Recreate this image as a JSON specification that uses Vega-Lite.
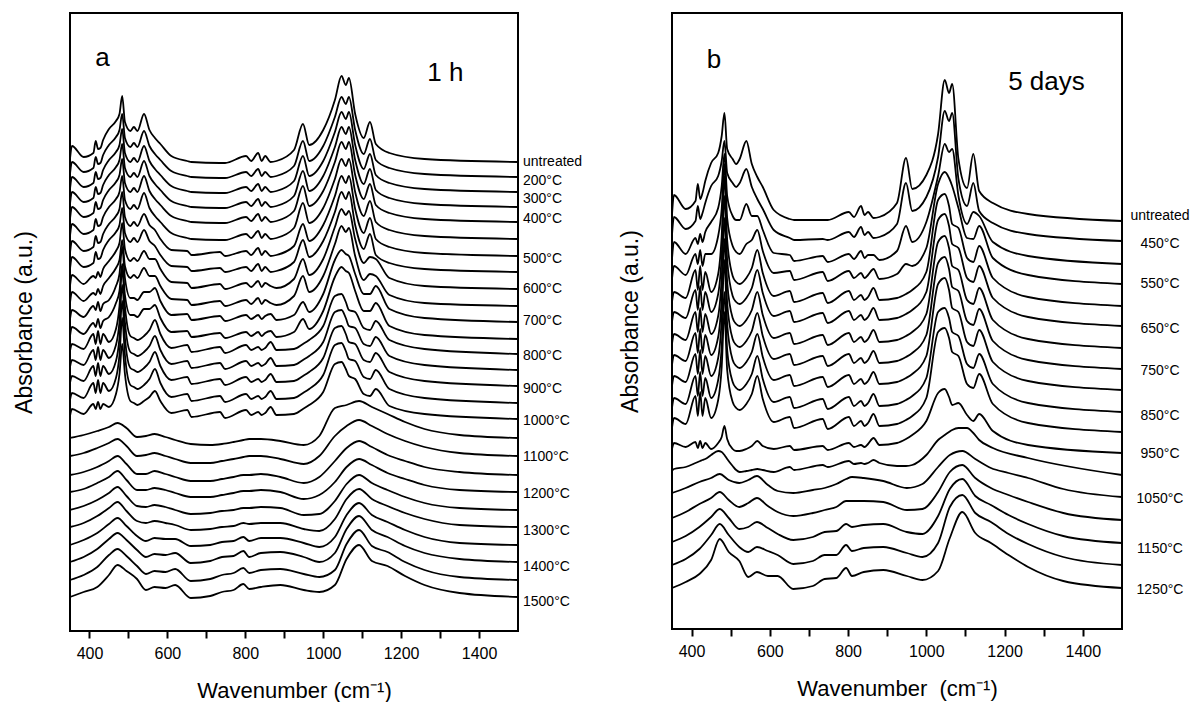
{
"$schema": "https://vega.github.io/schema/vega-lite/v6.json",
"background": "white",
"padding": {"left": 12, "top": 12, "right": 0, "bottom": 0},
"bounds": "flush",
"spacing": 154,
"config": {
  "view": {"stroke": "black", "strokeWidth": 2},
  "font": "Liberation Sans",
  "axis": {"domain": false, "grid": false, "labelFont": "Liberation Sans", "titleFont": "Liberation Sans", "labelFontSize": 16, "titleFontSize": 22, "titleFontWeight": "normal", "tickColor": "black", "labelColor": "black", "titleColor": "black", "tickWidth": 2},
  "axisY": {"titleFontSize": 23},
  "text": {"font": "Liberation Sans", "color": "black"}
},
"hconcat": [
{
"width": 448, "height": 618,
"layer": [
{
"data": {"values": [
{"c":0,"x":350,"y":472},{"c":0,"x":355,"y":485},{"c":0,"x":385,"y":474},{"c":0,"x":410,"y":478},{"c":0,"x":416,"y":490},{"c":0,"x":422,"y":482},{"c":0,"x":428,"y":483},{"c":0,"x":435,"y":491},{"c":0,"x":450,"y":502},{"c":0,"x":468,"y":510},{"c":0,"x":477,"y":517},{"c":0,"x":484,"y":535},{"c":0,"x":491,"y":509},{"c":0,"x":505,"y":500},{"c":0,"x":514,"y":504},{"c":0,"x":523,"y":500},{"c":0,"x":540,"y":517},{"c":0,"x":554,"y":501},{"c":0,"x":568,"y":493},{"c":0,"x":582,"y":487},{"c":0,"x":610,"y":475},{"c":0,"x":651,"y":470},{"c":0,"x":662,"y":469},{"c":0,"x":735,"y":468},{"c":0,"x":748,"y":468},{"c":0,"x":802,"y":475},{"c":0,"x":815,"y":470},{"c":0,"x":833,"y":478},{"c":0,"x":842,"y":470},{"c":0,"x":851,"y":475},{"c":0,"x":865,"y":469},{"c":0,"x":880,"y":470},{"c":0,"x":925,"y":481},{"c":0,"x":948,"y":507},{"c":0,"x":964,"y":486},{"c":0,"x":1000,"y":501},{"c":0,"x":1030,"y":531},{"c":0,"x":1047,"y":555},{"c":0,"x":1058,"y":546},{"c":0,"x":1066,"y":553},{"c":0,"x":1082,"y":517},{"c":0,"x":1104,"y":493},{"c":0,"x":1120,"y":509},{"c":0,"x":1135,"y":487},{"c":0,"x":1170,"y":478},{"c":0,"x":1260,"y":472},{"c":0,"x":1500,"y":469},
{"c":1,"x":350,"y":457},{"c":1,"x":355,"y":469},{"c":1,"x":385,"y":459},{"c":1,"x":410,"y":463},{"c":1,"x":416,"y":474},{"c":1,"x":422,"y":467},{"c":1,"x":428,"y":468},{"c":1,"x":435,"y":476},{"c":1,"x":450,"y":486},{"c":1,"x":468,"y":494},{"c":1,"x":477,"y":501},{"c":1,"x":484,"y":517},{"c":1,"x":491,"y":493},{"c":1,"x":505,"y":484},{"c":1,"x":514,"y":488},{"c":1,"x":523,"y":484},{"c":1,"x":540,"y":500},{"c":1,"x":554,"y":485},{"c":1,"x":568,"y":477},{"c":1,"x":582,"y":471},{"c":1,"x":610,"y":460},{"c":1,"x":651,"y":455},{"c":1,"x":662,"y":454},{"c":1,"x":735,"y":453},{"c":1,"x":748,"y":453},{"c":1,"x":802,"y":459},{"c":1,"x":815,"y":455},{"c":1,"x":833,"y":462},{"c":1,"x":842,"y":455},{"c":1,"x":851,"y":459},{"c":1,"x":865,"y":454},{"c":1,"x":880,"y":455},{"c":1,"x":925,"y":465},{"c":1,"x":948,"y":490},{"c":1,"x":964,"y":470},{"c":1,"x":1000,"y":485},{"c":1,"x":1030,"y":514},{"c":1,"x":1047,"y":534},{"c":1,"x":1058,"y":527},{"c":1,"x":1066,"y":534},{"c":1,"x":1082,"y":501},{"c":1,"x":1104,"y":477},{"c":1,"x":1120,"y":492},{"c":1,"x":1135,"y":471},{"c":1,"x":1170,"y":463},{"c":1,"x":1260,"y":457},{"c":1,"x":1500,"y":454},
{"c":2,"x":350,"y":442},{"c":2,"x":355,"y":454},{"c":2,"x":385,"y":444},{"c":2,"x":410,"y":448},{"c":2,"x":416,"y":459},{"c":2,"x":422,"y":452},{"c":2,"x":428,"y":453},{"c":2,"x":435,"y":461},{"c":2,"x":450,"y":471},{"c":2,"x":468,"y":479},{"c":2,"x":477,"y":486},{"c":2,"x":484,"y":502},{"c":2,"x":491,"y":478},{"c":2,"x":505,"y":469},{"c":2,"x":514,"y":473},{"c":2,"x":523,"y":469},{"c":2,"x":540,"y":485},{"c":2,"x":554,"y":470},{"c":2,"x":568,"y":462},{"c":2,"x":582,"y":456},{"c":2,"x":610,"y":445},{"c":2,"x":651,"y":440},{"c":2,"x":662,"y":439},{"c":2,"x":735,"y":438},{"c":2,"x":748,"y":438},{"c":2,"x":802,"y":444},{"c":2,"x":815,"y":440},{"c":2,"x":833,"y":447},{"c":2,"x":842,"y":440},{"c":2,"x":851,"y":444},{"c":2,"x":865,"y":439},{"c":2,"x":880,"y":440},{"c":2,"x":925,"y":450},{"c":2,"x":948,"y":475},{"c":2,"x":964,"y":455},{"c":2,"x":1000,"y":470},{"c":2,"x":1030,"y":499},{"c":2,"x":1047,"y":519},{"c":2,"x":1058,"y":512},{"c":2,"x":1066,"y":519},{"c":2,"x":1082,"y":486},{"c":2,"x":1104,"y":462},{"c":2,"x":1120,"y":477},{"c":2,"x":1135,"y":456},{"c":2,"x":1170,"y":448},{"c":2,"x":1260,"y":442},{"c":2,"x":1500,"y":439},
{"c":3,"x":350,"y":427},{"c":3,"x":355,"y":439},{"c":3,"x":385,"y":429},{"c":3,"x":410,"y":433},{"c":3,"x":416,"y":444},{"c":3,"x":422,"y":437},{"c":3,"x":428,"y":438},{"c":3,"x":435,"y":446},{"c":3,"x":450,"y":456},{"c":3,"x":468,"y":464},{"c":3,"x":477,"y":471},{"c":3,"x":484,"y":487},{"c":3,"x":491,"y":463},{"c":3,"x":505,"y":454},{"c":3,"x":514,"y":458},{"c":3,"x":523,"y":454},{"c":3,"x":540,"y":470},{"c":3,"x":554,"y":455},{"c":3,"x":568,"y":447},{"c":3,"x":582,"y":441},{"c":3,"x":610,"y":430},{"c":3,"x":651,"y":425},{"c":3,"x":662,"y":424},{"c":3,"x":735,"y":423},{"c":3,"x":748,"y":423},{"c":3,"x":802,"y":429},{"c":3,"x":815,"y":425},{"c":3,"x":833,"y":432},{"c":3,"x":842,"y":425},{"c":3,"x":851,"y":429},{"c":3,"x":865,"y":424},{"c":3,"x":880,"y":425},{"c":3,"x":925,"y":435},{"c":3,"x":948,"y":460},{"c":3,"x":964,"y":440},{"c":3,"x":1000,"y":455},{"c":3,"x":1030,"y":484},{"c":3,"x":1047,"y":504},{"c":3,"x":1058,"y":497},{"c":3,"x":1066,"y":504},{"c":3,"x":1082,"y":471},{"c":3,"x":1104,"y":447},{"c":3,"x":1120,"y":462},{"c":3,"x":1135,"y":441},{"c":3,"x":1170,"y":433},{"c":3,"x":1260,"y":427},{"c":3,"x":1500,"y":424},
{"c":4,"x":350,"y":412},{"c":4,"x":355,"y":424},{"c":4,"x":385,"y":414},{"c":4,"x":410,"y":418},{"c":4,"x":416,"y":429},{"c":4,"x":422,"y":422},{"c":4,"x":428,"y":423},{"c":4,"x":435,"y":431},{"c":4,"x":450,"y":441},{"c":4,"x":468,"y":449},{"c":4,"x":477,"y":456},{"c":4,"x":484,"y":472},{"c":4,"x":491,"y":448},{"c":4,"x":505,"y":439},{"c":4,"x":514,"y":443},{"c":4,"x":523,"y":439},{"c":4,"x":540,"y":455},{"c":4,"x":554,"y":440},{"c":4,"x":568,"y":432},{"c":4,"x":582,"y":426},{"c":4,"x":610,"y":415},{"c":4,"x":651,"y":410},{"c":4,"x":662,"y":409},{"c":4,"x":735,"y":408},{"c":4,"x":748,"y":408},{"c":4,"x":802,"y":414},{"c":4,"x":815,"y":410},{"c":4,"x":833,"y":417},{"c":4,"x":842,"y":410},{"c":4,"x":851,"y":414},{"c":4,"x":865,"y":409},{"c":4,"x":880,"y":410},{"c":4,"x":925,"y":420},{"c":4,"x":948,"y":445},{"c":4,"x":964,"y":425},{"c":4,"x":1000,"y":440},{"c":4,"x":1030,"y":469},{"c":4,"x":1047,"y":489},{"c":4,"x":1058,"y":482},{"c":4,"x":1066,"y":489},{"c":4,"x":1082,"y":456},{"c":4,"x":1104,"y":432},{"c":4,"x":1120,"y":447},{"c":4,"x":1135,"y":426},{"c":4,"x":1170,"y":418},{"c":4,"x":1260,"y":412},{"c":4,"x":1500,"y":409},
{"c":5,"x":350,"y":395},{"c":5,"x":355,"y":407},{"c":5,"x":385,"y":397},{"c":5,"x":410,"y":401},{"c":5,"x":416,"y":412},{"c":5,"x":422,"y":405},{"c":5,"x":428,"y":406},{"c":5,"x":435,"y":414},{"c":5,"x":450,"y":424},{"c":5,"x":468,"y":432},{"c":5,"x":477,"y":439},{"c":5,"x":484,"y":455},{"c":5,"x":491,"y":431},{"c":5,"x":505,"y":422},{"c":5,"x":514,"y":426},{"c":5,"x":523,"y":422},{"c":5,"x":540,"y":438},{"c":5,"x":554,"y":423},{"c":5,"x":568,"y":415},{"c":5,"x":582,"y":409},{"c":5,"x":610,"y":398},{"c":5,"x":651,"y":393},{"c":5,"x":662,"y":392},{"c":5,"x":735,"y":391},{"c":5,"x":748,"y":391},{"c":5,"x":802,"y":397},{"c":5,"x":815,"y":393},{"c":5,"x":833,"y":400},{"c":5,"x":842,"y":393},{"c":5,"x":851,"y":397},{"c":5,"x":865,"y":392},{"c":5,"x":880,"y":393},{"c":5,"x":925,"y":403},{"c":5,"x":948,"y":428},{"c":5,"x":964,"y":408},{"c":5,"x":1000,"y":423},{"c":5,"x":1030,"y":452},{"c":5,"x":1047,"y":472},{"c":5,"x":1058,"y":465},{"c":5,"x":1066,"y":472},{"c":5,"x":1082,"y":439},{"c":5,"x":1104,"y":415},{"c":5,"x":1120,"y":430},{"c":5,"x":1135,"y":409},{"c":5,"x":1170,"y":401},{"c":5,"x":1260,"y":395},{"c":5,"x":1500,"y":392},
{"c":6,"x":350,"y":378},{"c":6,"x":355,"y":390},{"c":6,"x":385,"y":380},{"c":6,"x":410,"y":384},{"c":6,"x":416,"y":395},{"c":6,"x":422,"y":388},{"c":6,"x":428,"y":389},{"c":6,"x":435,"y":397},{"c":6,"x":450,"y":407},{"c":6,"x":468,"y":415},{"c":6,"x":477,"y":422},{"c":6,"x":484,"y":439},{"c":6,"x":491,"y":414},{"c":6,"x":505,"y":405},{"c":6,"x":514,"y":409},{"c":6,"x":523,"y":405},{"c":6,"x":540,"y":417},{"c":6,"x":554,"y":406},{"c":6,"x":568,"y":401},{"c":6,"x":582,"y":392},{"c":6,"x":610,"y":381},{"c":6,"x":651,"y":380},{"c":6,"x":662,"y":376},{"c":6,"x":735,"y":379},{"c":6,"x":748,"y":375},{"c":6,"x":802,"y":380},{"c":6,"x":815,"y":376},{"c":6,"x":833,"y":383},{"c":6,"x":842,"y":376},{"c":6,"x":851,"y":380},{"c":6,"x":865,"y":375},{"c":6,"x":880,"y":376},{"c":6,"x":925,"y":385},{"c":6,"x":948,"y":407},{"c":6,"x":964,"y":390},{"c":6,"x":1000,"y":406},{"c":6,"x":1030,"y":435},{"c":6,"x":1047,"y":455},{"c":6,"x":1058,"y":448},{"c":6,"x":1066,"y":455},{"c":6,"x":1082,"y":422},{"c":6,"x":1104,"y":398},{"c":6,"x":1120,"y":413},{"c":6,"x":1135,"y":392},{"c":6,"x":1170,"y":384},{"c":6,"x":1260,"y":378},{"c":6,"x":1500,"y":375},
{"c":7,"x":350,"y":362},{"c":7,"x":355,"y":374},{"c":7,"x":385,"y":364},{"c":7,"x":410,"y":368},{"c":7,"x":416,"y":379},{"c":7,"x":422,"y":372},{"c":7,"x":428,"y":373},{"c":7,"x":435,"y":381},{"c":7,"x":450,"y":391},{"c":7,"x":468,"y":399},{"c":7,"x":477,"y":406},{"c":7,"x":484,"y":423},{"c":7,"x":491,"y":398},{"c":7,"x":505,"y":389},{"c":7,"x":514,"y":393},{"c":7,"x":523,"y":389},{"c":7,"x":540,"y":401},{"c":7,"x":554,"y":390},{"c":7,"x":568,"y":385},{"c":7,"x":582,"y":376},{"c":7,"x":610,"y":365},{"c":7,"x":651,"y":364},{"c":7,"x":662,"y":360},{"c":7,"x":735,"y":363},{"c":7,"x":748,"y":359},{"c":7,"x":802,"y":364},{"c":7,"x":815,"y":360},{"c":7,"x":833,"y":367},{"c":7,"x":842,"y":360},{"c":7,"x":851,"y":364},{"c":7,"x":865,"y":359},{"c":7,"x":880,"y":360},{"c":7,"x":925,"y":369},{"c":7,"x":948,"y":391},{"c":7,"x":964,"y":374},{"c":7,"x":1000,"y":390},{"c":7,"x":1030,"y":419},{"c":7,"x":1047,"y":439},{"c":7,"x":1058,"y":432},{"c":7,"x":1066,"y":439},{"c":7,"x":1082,"y":406},{"c":7,"x":1104,"y":382},{"c":7,"x":1120,"y":397},{"c":7,"x":1135,"y":376},{"c":7,"x":1170,"y":368},{"c":7,"x":1260,"y":362},{"c":7,"x":1500,"y":359},
{"c":8,"x":350,"y":345},{"c":8,"x":355,"y":356},{"c":8,"x":385,"y":347},{"c":8,"x":410,"y":355},{"c":8,"x":416,"y":353},{"c":8,"x":422,"y":359},{"c":8,"x":428,"y":354},{"c":8,"x":435,"y":362},{"c":8,"x":450,"y":370},{"c":8,"x":468,"y":380},{"c":8,"x":477,"y":388},{"c":8,"x":484,"y":408},{"c":8,"x":491,"y":382},{"c":8,"x":505,"y":370},{"c":8,"x":514,"y":373},{"c":8,"x":523,"y":370},{"c":8,"x":540,"y":380},{"c":8,"x":554,"y":372},{"c":8,"x":568,"y":372},{"c":8,"x":582,"y":362},{"c":8,"x":610,"y":349},{"c":8,"x":651,"y":348},{"c":8,"x":662,"y":343},{"c":8,"x":735,"y":347},{"c":8,"x":748,"y":342},{"c":8,"x":802,"y":348},{"c":8,"x":815,"y":344},{"c":8,"x":833,"y":350},{"c":8,"x":842,"y":344},{"c":8,"x":851,"y":348},{"c":8,"x":865,"y":345},{"c":8,"x":880,"y":343},{"c":8,"x":925,"y":352},{"c":8,"x":948,"y":372},{"c":8,"x":964,"y":356},{"c":8,"x":1000,"y":372},{"c":8,"x":1030,"y":404},{"c":8,"x":1047,"y":422},{"c":8,"x":1058,"y":416},{"c":8,"x":1066,"y":420},{"c":8,"x":1082,"y":392},{"c":8,"x":1104,"y":368},{"c":8,"x":1120,"y":374},{"c":8,"x":1135,"y":372},{"c":8,"x":1170,"y":353},{"c":8,"x":1260,"y":345},{"c":8,"x":1500,"y":342},
{"c":9,"x":350,"y":328},{"c":9,"x":355,"y":339},{"c":9,"x":385,"y":330},{"c":9,"x":410,"y":338},{"c":9,"x":416,"y":336},{"c":9,"x":422,"y":342},{"c":9,"x":428,"y":337},{"c":9,"x":435,"y":345},{"c":9,"x":450,"y":353},{"c":9,"x":468,"y":363},{"c":9,"x":477,"y":371},{"c":9,"x":484,"y":391},{"c":9,"x":491,"y":365},{"c":9,"x":505,"y":353},{"c":9,"x":514,"y":356},{"c":9,"x":523,"y":353},{"c":9,"x":540,"y":363},{"c":9,"x":554,"y":355},{"c":9,"x":568,"y":355},{"c":9,"x":582,"y":345},{"c":9,"x":610,"y":332},{"c":9,"x":651,"y":331},{"c":9,"x":662,"y":326},{"c":9,"x":735,"y":330},{"c":9,"x":748,"y":325},{"c":9,"x":802,"y":331},{"c":9,"x":815,"y":327},{"c":9,"x":833,"y":333},{"c":9,"x":842,"y":327},{"c":9,"x":851,"y":331},{"c":9,"x":865,"y":328},{"c":9,"x":880,"y":326},{"c":9,"x":925,"y":335},{"c":9,"x":948,"y":355},{"c":9,"x":964,"y":339},{"c":9,"x":1000,"y":355},{"c":9,"x":1030,"y":387},{"c":9,"x":1047,"y":405},{"c":9,"x":1058,"y":399},{"c":9,"x":1066,"y":403},{"c":9,"x":1082,"y":375},{"c":9,"x":1104,"y":351},{"c":9,"x":1120,"y":357},{"c":9,"x":1135,"y":355},{"c":9,"x":1170,"y":336},{"c":9,"x":1260,"y":328},{"c":9,"x":1500,"y":325},
{"c":10,"x":350,"y":312},{"c":10,"x":355,"y":321},{"c":10,"x":385,"y":314},{"c":10,"x":410,"y":325},{"c":10,"x":416,"y":321},{"c":10,"x":422,"y":329},{"c":10,"x":428,"y":320},{"c":10,"x":435,"y":327},{"c":10,"x":450,"y":331},{"c":10,"x":468,"y":345},{"c":10,"x":477,"y":357},{"c":10,"x":484,"y":384},{"c":10,"x":491,"y":353},{"c":10,"x":505,"y":333},{"c":10,"x":514,"y":333},{"c":10,"x":523,"y":331},{"c":10,"x":540,"y":339},{"c":10,"x":554,"y":339},{"c":10,"x":568,"y":343},{"c":10,"x":582,"y":330},{"c":10,"x":610,"y":316},{"c":10,"x":651,"y":317},{"c":10,"x":662,"y":311},{"c":10,"x":735,"y":315},{"c":10,"x":748,"y":310},{"c":10,"x":802,"y":316},{"c":10,"x":815,"y":312},{"c":10,"x":833,"y":316},{"c":10,"x":842,"y":312},{"c":10,"x":851,"y":315},{"c":10,"x":865,"y":317},{"c":10,"x":880,"y":311},{"c":10,"x":925,"y":316},{"c":10,"x":948,"y":329},{"c":10,"x":964,"y":319},{"c":10,"x":1000,"y":337},{"c":10,"x":1030,"y":371},{"c":10,"x":1047,"y":381},{"c":10,"x":1058,"y":377},{"c":10,"x":1066,"y":375},{"c":10,"x":1082,"y":357},{"c":10,"x":1104,"y":337},{"c":10,"x":1120,"y":337},{"c":10,"x":1135,"y":345},{"c":10,"x":1170,"y":322},{"c":10,"x":1260,"y":313},{"c":10,"x":1500,"y":309},
{"c":11,"x":350,"y":295},{"c":11,"x":355,"y":304},{"c":11,"x":385,"y":297},{"c":11,"x":410,"y":308},{"c":11,"x":416,"y":304},{"c":11,"x":422,"y":312},{"c":11,"x":428,"y":303},{"c":11,"x":435,"y":310},{"c":11,"x":450,"y":314},{"c":11,"x":468,"y":328},{"c":11,"x":477,"y":340},{"c":11,"x":484,"y":367},{"c":11,"x":491,"y":336},{"c":11,"x":505,"y":316},{"c":11,"x":514,"y":316},{"c":11,"x":523,"y":314},{"c":11,"x":540,"y":322},{"c":11,"x":554,"y":322},{"c":11,"x":568,"y":326},{"c":11,"x":582,"y":313},{"c":11,"x":610,"y":299},{"c":11,"x":651,"y":300},{"c":11,"x":662,"y":294},{"c":11,"x":735,"y":298},{"c":11,"x":748,"y":293},{"c":11,"x":802,"y":299},{"c":11,"x":815,"y":295},{"c":11,"x":833,"y":299},{"c":11,"x":842,"y":295},{"c":11,"x":851,"y":298},{"c":11,"x":865,"y":300},{"c":11,"x":880,"y":294},{"c":11,"x":925,"y":299},{"c":11,"x":948,"y":312},{"c":11,"x":964,"y":302},{"c":11,"x":1000,"y":320},{"c":11,"x":1030,"y":354},{"c":11,"x":1047,"y":364},{"c":11,"x":1058,"y":360},{"c":11,"x":1066,"y":358},{"c":11,"x":1082,"y":340},{"c":11,"x":1104,"y":320},{"c":11,"x":1120,"y":320},{"c":11,"x":1135,"y":328},{"c":11,"x":1170,"y":305},{"c":11,"x":1260,"y":296},{"c":11,"x":1500,"y":292},
{"c":12,"x":350,"y":280},{"c":12,"x":355,"y":287},{"c":12,"x":385,"y":282},{"c":12,"x":410,"y":297},{"c":12,"x":416,"y":287},{"c":12,"x":422,"y":300},{"c":12,"x":428,"y":287},{"c":12,"x":435,"y":297},{"c":12,"x":450,"y":289},{"c":12,"x":468,"y":302},{"c":12,"x":477,"y":325},{"c":12,"x":484,"y":362},{"c":12,"x":491,"y":325},{"c":12,"x":505,"y":295},{"c":12,"x":514,"y":293},{"c":12,"x":523,"y":291},{"c":12,"x":540,"y":295},{"c":12,"x":554,"y":301},{"c":12,"x":568,"y":311},{"c":12,"x":582,"y":297},{"c":12,"x":610,"y":283},{"c":12,"x":651,"y":286},{"c":12,"x":662,"y":279},{"c":12,"x":735,"y":284},{"c":12,"x":748,"y":278},{"c":12,"x":802,"y":286},{"c":12,"x":815,"y":281},{"c":12,"x":833,"y":284},{"c":12,"x":842,"y":281},{"c":12,"x":851,"y":283},{"c":12,"x":865,"y":289},{"c":12,"x":880,"y":281},{"c":12,"x":925,"y":282},{"c":12,"x":948,"y":287},{"c":12,"x":964,"y":291},{"c":12,"x":1000,"y":305},{"c":12,"x":1030,"y":335},{"c":12,"x":1047,"y":337},{"c":12,"x":1058,"y":329},{"c":12,"x":1066,"y":321},{"c":12,"x":1082,"y":319},{"c":12,"x":1104,"y":303},{"c":12,"x":1120,"y":301},{"c":12,"x":1135,"y":310},{"c":12,"x":1170,"y":291},{"c":12,"x":1260,"y":282},{"c":12,"x":1500,"y":277},
{"c":13,"x":350,"y":264},{"c":13,"x":355,"y":271},{"c":13,"x":385,"y":266},{"c":13,"x":410,"y":281},{"c":13,"x":416,"y":271},{"c":13,"x":422,"y":284},{"c":13,"x":428,"y":271},{"c":13,"x":435,"y":281},{"c":13,"x":450,"y":273},{"c":13,"x":468,"y":286},{"c":13,"x":477,"y":309},{"c":13,"x":484,"y":346},{"c":13,"x":491,"y":309},{"c":13,"x":505,"y":279},{"c":13,"x":514,"y":277},{"c":13,"x":523,"y":275},{"c":13,"x":540,"y":279},{"c":13,"x":554,"y":285},{"c":13,"x":568,"y":295},{"c":13,"x":582,"y":281},{"c":13,"x":610,"y":267},{"c":13,"x":651,"y":270},{"c":13,"x":662,"y":263},{"c":13,"x":735,"y":268},{"c":13,"x":748,"y":262},{"c":13,"x":802,"y":270},{"c":13,"x":815,"y":265},{"c":13,"x":833,"y":268},{"c":13,"x":842,"y":265},{"c":13,"x":851,"y":267},{"c":13,"x":865,"y":273},{"c":13,"x":880,"y":265},{"c":13,"x":925,"y":266},{"c":13,"x":948,"y":271},{"c":13,"x":964,"y":275},{"c":13,"x":1000,"y":289},{"c":13,"x":1030,"y":319},{"c":13,"x":1047,"y":321},{"c":13,"x":1058,"y":313},{"c":13,"x":1066,"y":305},{"c":13,"x":1082,"y":303},{"c":13,"x":1104,"y":287},{"c":13,"x":1120,"y":285},{"c":13,"x":1135,"y":294},{"c":13,"x":1170,"y":275},{"c":13,"x":1260,"y":266},{"c":13,"x":1500,"y":261},
{"c":14,"x":350,"y":248},{"c":14,"x":355,"y":255},{"c":14,"x":385,"y":250},{"c":14,"x":410,"y":265},{"c":14,"x":416,"y":255},{"c":14,"x":422,"y":268},{"c":14,"x":428,"y":255},{"c":14,"x":435,"y":265},{"c":14,"x":450,"y":257},{"c":14,"x":468,"y":270},{"c":14,"x":477,"y":293},{"c":14,"x":484,"y":330},{"c":14,"x":491,"y":293},{"c":14,"x":505,"y":263},{"c":14,"x":514,"y":261},{"c":14,"x":523,"y":259},{"c":14,"x":540,"y":263},{"c":14,"x":554,"y":269},{"c":14,"x":568,"y":279},{"c":14,"x":582,"y":265},{"c":14,"x":610,"y":251},{"c":14,"x":651,"y":254},{"c":14,"x":662,"y":247},{"c":14,"x":735,"y":252},{"c":14,"x":748,"y":246},{"c":14,"x":802,"y":254},{"c":14,"x":815,"y":249},{"c":14,"x":833,"y":252},{"c":14,"x":842,"y":249},{"c":14,"x":851,"y":251},{"c":14,"x":865,"y":257},{"c":14,"x":880,"y":249},{"c":14,"x":925,"y":250},{"c":14,"x":948,"y":255},{"c":14,"x":964,"y":259},{"c":14,"x":1000,"y":273},{"c":14,"x":1030,"y":303},{"c":14,"x":1047,"y":305},{"c":14,"x":1058,"y":297},{"c":14,"x":1066,"y":289},{"c":14,"x":1082,"y":287},{"c":14,"x":1104,"y":271},{"c":14,"x":1120,"y":269},{"c":14,"x":1135,"y":278},{"c":14,"x":1170,"y":259},{"c":14,"x":1260,"y":250},{"c":14,"x":1500,"y":245},
{"c":15,"x":350,"y":231},{"c":15,"x":355,"y":238},{"c":15,"x":385,"y":233},{"c":15,"x":410,"y":248},{"c":15,"x":416,"y":238},{"c":15,"x":422,"y":251},{"c":15,"x":428,"y":238},{"c":15,"x":435,"y":248},{"c":15,"x":450,"y":240},{"c":15,"x":468,"y":253},{"c":15,"x":477,"y":276},{"c":15,"x":484,"y":313},{"c":15,"x":491,"y":276},{"c":15,"x":505,"y":246},{"c":15,"x":514,"y":244},{"c":15,"x":523,"y":242},{"c":15,"x":540,"y":246},{"c":15,"x":554,"y":252},{"c":15,"x":568,"y":262},{"c":15,"x":582,"y":248},{"c":15,"x":610,"y":234},{"c":15,"x":651,"y":237},{"c":15,"x":662,"y":230},{"c":15,"x":735,"y":235},{"c":15,"x":748,"y":229},{"c":15,"x":802,"y":237},{"c":15,"x":815,"y":232},{"c":15,"x":833,"y":235},{"c":15,"x":842,"y":232},{"c":15,"x":851,"y":234},{"c":15,"x":865,"y":240},{"c":15,"x":880,"y":232},{"c":15,"x":925,"y":233},{"c":15,"x":948,"y":238},{"c":15,"x":964,"y":242},{"c":15,"x":1000,"y":256},{"c":15,"x":1030,"y":286},{"c":15,"x":1047,"y":288},{"c":15,"x":1058,"y":280},{"c":15,"x":1066,"y":272},{"c":15,"x":1082,"y":270},{"c":15,"x":1104,"y":254},{"c":15,"x":1120,"y":252},{"c":15,"x":1135,"y":261},{"c":15,"x":1170,"y":242},{"c":15,"x":1260,"y":233},{"c":15,"x":1500,"y":228},
{"c":16,"x":350,"y":215},{"c":16,"x":355,"y":222},{"c":16,"x":385,"y":217},{"c":16,"x":410,"y":227},{"c":16,"x":416,"y":222},{"c":16,"x":422,"y":229},{"c":16,"x":428,"y":222},{"c":16,"x":435,"y":227},{"c":16,"x":450,"y":224},{"c":16,"x":468,"y":237},{"c":16,"x":477,"y":257},{"c":16,"x":484,"y":287},{"c":16,"x":491,"y":257},{"c":16,"x":505,"y":230},{"c":16,"x":514,"y":228},{"c":16,"x":523,"y":226},{"c":16,"x":540,"y":230},{"c":16,"x":554,"y":234},{"c":16,"x":568,"y":240},{"c":16,"x":582,"y":230},{"c":16,"x":610,"y":218},{"c":16,"x":651,"y":221},{"c":16,"x":662,"y":214},{"c":16,"x":735,"y":219},{"c":16,"x":748,"y":213},{"c":16,"x":802,"y":221},{"c":16,"x":815,"y":216},{"c":16,"x":833,"y":219},{"c":16,"x":842,"y":216},{"c":16,"x":851,"y":218},{"c":16,"x":865,"y":224},{"c":16,"x":880,"y":216},{"c":16,"x":925,"y":217},{"c":16,"x":948,"y":222},{"c":16,"x":964,"y":226},{"c":16,"x":1000,"y":239},{"c":16,"x":1030,"y":267},{"c":16,"x":1047,"y":269},{"c":16,"x":1058,"y":262},{"c":16,"x":1066,"y":255},{"c":16,"x":1082,"y":252},{"c":16,"x":1104,"y":237},{"c":16,"x":1120,"y":235},{"c":16,"x":1135,"y":242},{"c":16,"x":1170,"y":225},{"c":16,"x":1260,"y":217},{"c":16,"x":1500,"y":212},
{"c":17,"x":350,"y":193},{"c":17,"x":385,"y":196},{"c":17,"x":420,"y":200},{"c":17,"x":450,"y":204},{"c":17,"x":472,"y":208},{"c":17,"x":495,"y":203},{"c":17,"x":522,"y":194},{"c":17,"x":545,"y":195},{"c":17,"x":567,"y":197},{"c":17,"x":595,"y":194},{"c":17,"x":620,"y":191},{"c":17,"x":660,"y":187},{"c":17,"x":710,"y":186},{"c":17,"x":740,"y":187},{"c":17,"x":770,"y":189},{"c":17,"x":795,"y":191},{"c":17,"x":810,"y":192},{"c":17,"x":840,"y":192},{"c":17,"x":890,"y":190},{"c":17,"x":950,"y":186},{"c":17,"x":990,"y":195},{"c":17,"x":1030,"y":223},{"c":17,"x":1060,"y":226},{"c":17,"x":1092,"y":230},{"c":17,"x":1125,"y":224},{"c":17,"x":1165,"y":217},{"c":17,"x":1210,"y":209},{"c":17,"x":1260,"y":202},{"c":17,"x":1350,"y":196},{"c":17,"x":1500,"y":193},
{"c":18,"x":350,"y":175},{"c":18,"x":385,"y":178},{"c":18,"x":420,"y":183},{"c":18,"x":450,"y":188},{"c":18,"x":472,"y":192},{"c":18,"x":495,"y":185},{"c":18,"x":522,"y":175},{"c":18,"x":545,"y":176},{"c":18,"x":567,"y":178},{"c":18,"x":595,"y":175},{"c":18,"x":620,"y":172},{"c":18,"x":660,"y":168},{"c":18,"x":710,"y":168},{"c":18,"x":740,"y":170},{"c":18,"x":770,"y":172},{"c":18,"x":795,"y":174},{"c":18,"x":810,"y":175},{"c":18,"x":840,"y":175},{"c":18,"x":890,"y":172},{"c":18,"x":950,"y":167},{"c":18,"x":990,"y":175},{"c":18,"x":1030,"y":195},{"c":18,"x":1060,"y":205},{"c":18,"x":1092,"y":211},{"c":18,"x":1125,"y":205},{"c":18,"x":1165,"y":197},{"c":18,"x":1210,"y":190},{"c":18,"x":1260,"y":184},{"c":18,"x":1350,"y":178},{"c":18,"x":1500,"y":175},
{"c":19,"x":350,"y":156},{"c":19,"x":385,"y":159},{"c":19,"x":420,"y":164},{"c":19,"x":450,"y":170},{"c":19,"x":472,"y":175},{"c":19,"x":495,"y":167},{"c":19,"x":522,"y":157},{"c":19,"x":545,"y":157},{"c":19,"x":567,"y":160},{"c":19,"x":595,"y":157},{"c":19,"x":620,"y":154},{"c":19,"x":660,"y":150},{"c":19,"x":710,"y":150},{"c":19,"x":740,"y":152},{"c":19,"x":770,"y":154},{"c":19,"x":795,"y":156},{"c":19,"x":810,"y":156},{"c":19,"x":840,"y":157},{"c":19,"x":890,"y":154},{"c":19,"x":950,"y":148},{"c":19,"x":990,"y":154},{"c":19,"x":1030,"y":170},{"c":19,"x":1060,"y":183},{"c":19,"x":1092,"y":190},{"c":19,"x":1125,"y":184},{"c":19,"x":1165,"y":176},{"c":19,"x":1210,"y":170},{"c":19,"x":1260,"y":164},{"c":19,"x":1350,"y":159},{"c":19,"x":1500,"y":156},
{"c":20,"x":350,"y":139},{"c":20,"x":385,"y":142},{"c":20,"x":420,"y":148},{"c":20,"x":450,"y":154},{"c":20,"x":472,"y":160},{"c":20,"x":495,"y":151},{"c":20,"x":522,"y":141},{"c":20,"x":545,"y":141},{"c":20,"x":567,"y":143},{"c":20,"x":595,"y":141},{"c":20,"x":620,"y":138},{"c":20,"x":660,"y":134},{"c":20,"x":710,"y":134},{"c":20,"x":740,"y":136},{"c":20,"x":770,"y":138},{"c":20,"x":795,"y":140},{"c":20,"x":810,"y":140},{"c":20,"x":840,"y":141},{"c":20,"x":890,"y":139},{"c":20,"x":950,"y":132},{"c":20,"x":990,"y":136},{"c":20,"x":1030,"y":149},{"c":20,"x":1060,"y":164},{"c":20,"x":1092,"y":172},{"c":20,"x":1125,"y":166},{"c":20,"x":1165,"y":158},{"c":20,"x":1210,"y":152},{"c":20,"x":1260,"y":146},{"c":20,"x":1350,"y":141},{"c":20,"x":1500,"y":139},
{"c":21,"x":350,"y":121},{"c":21,"x":385,"y":125},{"c":21,"x":420,"y":131},{"c":21,"x":450,"y":138},{"c":21,"x":472,"y":144},{"c":21,"x":495,"y":135},{"c":21,"x":522,"y":125},{"c":21,"x":545,"y":124},{"c":21,"x":567,"y":126},{"c":21,"x":595,"y":124},{"c":21,"x":620,"y":121},{"c":21,"x":660,"y":117},{"c":21,"x":710,"y":118},{"c":21,"x":740,"y":120},{"c":21,"x":770,"y":121},{"c":21,"x":795,"y":123},{"c":21,"x":810,"y":123},{"c":21,"x":840,"y":124},{"c":21,"x":890,"y":123},{"c":21,"x":950,"y":116},{"c":21,"x":990,"y":117},{"c":21,"x":1030,"y":130},{"c":21,"x":1060,"y":147},{"c":21,"x":1092,"y":156},{"c":21,"x":1125,"y":148},{"c":21,"x":1165,"y":141},{"c":21,"x":1210,"y":134},{"c":21,"x":1260,"y":128},{"c":21,"x":1350,"y":123},{"c":21,"x":1500,"y":121},
{"c":22,"x":350,"y":104},{"c":22,"x":385,"y":108},{"c":22,"x":420,"y":115},{"c":22,"x":450,"y":123},{"c":22,"x":472,"y":129},{"c":22,"x":495,"y":120},{"c":22,"x":522,"y":110},{"c":22,"x":545,"y":108},{"c":22,"x":567,"y":110},{"c":22,"x":595,"y":108},{"c":22,"x":620,"y":106},{"c":22,"x":660,"y":101},{"c":22,"x":710,"y":102},{"c":22,"x":740,"y":104},{"c":22,"x":770,"y":105},{"c":22,"x":795,"y":108},{"c":22,"x":810,"y":107},{"c":22,"x":840,"y":108},{"c":22,"x":890,"y":108},{"c":22,"x":950,"y":102},{"c":22,"x":990,"y":100},{"c":22,"x":1030,"y":112},{"c":22,"x":1060,"y":132},{"c":22,"x":1092,"y":142},{"c":22,"x":1125,"y":132},{"c":22,"x":1165,"y":125},{"c":22,"x":1210,"y":118},{"c":22,"x":1260,"y":112},{"c":22,"x":1350,"y":106},{"c":22,"x":1500,"y":104},
{"c":23,"x":350,"y":86},{"c":23,"x":385,"y":91},{"c":23,"x":420,"y":98},{"c":23,"x":450,"y":107},{"c":23,"x":472,"y":113},{"c":23,"x":495,"y":105},{"c":23,"x":522,"y":95},{"c":23,"x":545,"y":90},{"c":23,"x":567,"y":93},{"c":23,"x":595,"y":92},{"c":23,"x":620,"y":92},{"c":23,"x":660,"y":85},{"c":23,"x":710,"y":86},{"c":23,"x":740,"y":89},{"c":23,"x":770,"y":90},{"c":23,"x":795,"y":94},{"c":23,"x":810,"y":90},{"c":23,"x":840,"y":93},{"c":23,"x":890,"y":93},{"c":23,"x":950,"y":88},{"c":23,"x":990,"y":84},{"c":23,"x":1030,"y":94},{"c":23,"x":1060,"y":116},{"c":23,"x":1092,"y":128},{"c":23,"x":1125,"y":116},{"c":23,"x":1165,"y":109},{"c":23,"x":1210,"y":101},{"c":23,"x":1260,"y":94},{"c":23,"x":1350,"y":88},{"c":23,"x":1500,"y":86},
{"c":24,"x":350,"y":69},{"c":24,"x":385,"y":74},{"c":24,"x":420,"y":82},{"c":24,"x":450,"y":92},{"c":24,"x":472,"y":98},{"c":24,"x":495,"y":91},{"c":24,"x":522,"y":81},{"c":24,"x":545,"y":74},{"c":24,"x":567,"y":77},{"c":24,"x":595,"y":76},{"c":24,"x":620,"y":78},{"c":24,"x":660,"y":68},{"c":24,"x":710,"y":70},{"c":24,"x":740,"y":74},{"c":24,"x":770,"y":75},{"c":24,"x":795,"y":80},{"c":24,"x":810,"y":74},{"c":24,"x":840,"y":78},{"c":24,"x":890,"y":79},{"c":24,"x":950,"y":74},{"c":24,"x":990,"y":69},{"c":24,"x":1030,"y":78},{"c":24,"x":1060,"y":102},{"c":24,"x":1092,"y":115},{"c":24,"x":1125,"y":101},{"c":24,"x":1165,"y":94},{"c":24,"x":1210,"y":85},{"c":24,"x":1260,"y":78},{"c":24,"x":1350,"y":72},{"c":24,"x":1500,"y":69},
{"c":25,"x":350,"y":51},{"c":25,"x":385,"y":56},{"c":25,"x":420,"y":64},{"c":25,"x":450,"y":76},{"c":25,"x":472,"y":82},{"c":25,"x":495,"y":75},{"c":25,"x":522,"y":65},{"c":25,"x":545,"y":57},{"c":25,"x":567,"y":60},{"c":25,"x":595,"y":59},{"c":25,"x":620,"y":62},{"c":25,"x":660,"y":50},{"c":25,"x":710,"y":52},{"c":25,"x":740,"y":56},{"c":25,"x":770,"y":58},{"c":25,"x":795,"y":63},{"c":25,"x":810,"y":58},{"c":25,"x":840,"y":61},{"c":25,"x":890,"y":62},{"c":25,"x":950,"y":57},{"c":25,"x":990,"y":54},{"c":25,"x":1030,"y":61},{"c":25,"x":1060,"y":87},{"c":25,"x":1092,"y":101},{"c":25,"x":1125,"y":85},{"c":25,"x":1165,"y":79},{"c":25,"x":1210,"y":69},{"c":25,"x":1260,"y":61},{"c":25,"x":1350,"y":54},{"c":25,"x":1500,"y":51},
{"c":26,"x":350,"y":34},{"c":26,"x":385,"y":39},{"c":26,"x":420,"y":44},{"c":26,"x":450,"y":56},{"c":26,"x":472,"y":66},{"c":26,"x":495,"y":60},{"c":26,"x":522,"y":52},{"c":26,"x":545,"y":41},{"c":26,"x":567,"y":44},{"c":26,"x":595,"y":43},{"c":26,"x":620,"y":46},{"c":26,"x":660,"y":33},{"c":26,"x":710,"y":35},{"c":26,"x":740,"y":39},{"c":26,"x":770,"y":41},{"c":26,"x":795,"y":47},{"c":26,"x":810,"y":42},{"c":26,"x":840,"y":44},{"c":26,"x":890,"y":46},{"c":26,"x":950,"y":41},{"c":26,"x":990,"y":39},{"c":26,"x":1030,"y":46},{"c":26,"x":1060,"y":72},{"c":26,"x":1092,"y":86},{"c":26,"x":1125,"y":70},{"c":26,"x":1165,"y":65},{"c":26,"x":1210,"y":55},{"c":26,"x":1260,"y":46},{"c":26,"x":1350,"y":38},{"c":26,"x":1500,"y":34}
]},
"mark": {"type": "line", "color": "black", "strokeWidth": 1.8, "interpolate": "monotone"},
"encoding": {
  "x": {"field": "x", "type": "quantitative", "scale": {"domain": [350, 1500], "nice": false, "zero": false}, "axis": {"orient": "bottom", "values": [400, 500, 600, 700, 800, 900, 1000, 1100, 1200, 1300, 1400], "format": "d", "labelExpr": "datum.value % 200 == 0 ? datum.label : ''", "tickSize": 7, "labelPadding": 7, "title": "Wavenumber (cm⁻¹)", "titlePadding": 19}},
  "y": {"field": "y", "type": "quantitative", "scale": {"domain": [0, 618], "nice": false, "zero": false}, "axis": {"title": "Absorbance (a.u.)", "labels": false, "ticks": false, "titlePadding": 34}},
  "detail": {"field": "c", "type": "nominal"}
}
},
{
"data": {"values": [
{"x":1500,"y":469,"t":"untreated"},{"x":1500,"y":450,"t":"200°C"},{"x":1500,"y":432,"t":"300°C"},{"x":1500,"y":412,"t":"400°C"},{"x":1500,"y":372,"t":"500°C"},{"x":1500,"y":342,"t":"600°C"},{"x":1500,"y":310,"t":"700°C"},{"x":1500,"y":275,"t":"800°C"},{"x":1500,"y":242,"t":"900°C"},{"x":1500,"y":210,"t":"1000°C"},{"x":1500,"y":174,"t":"1100°C"},{"x":1500,"y":137,"t":"1200°C"},{"x":1500,"y":100,"t":"1300°C"},{"x":1500,"y":64,"t":"1400°C"},{"x":1500,"y":29,"t":"1500°C"}
]},
"mark": {"type": "text", "align": "left", "baseline": "middle", "dx": 5, "fontSize": 14},
"encoding": {
  "x": {"field": "x", "type": "quantitative", "scale": {"domain": [350, 1500], "nice": false, "zero": false}, "axis": {"orient": "bottom", "values": [400, 500, 600, 700, 800, 900, 1000, 1100, 1200, 1300, 1400], "format": "d", "labelExpr": "datum.value % 200 == 0 ? datum.label : ''", "tickSize": 7, "labelPadding": 7, "title": "Wavenumber (cm⁻¹)", "titlePadding": 19}},
  "y": {"field": "y", "type": "quantitative", "scale": {"domain": [0, 618], "nice": false, "zero": false}, "axis": {"title": "Absorbance (a.u.)", "labels": false, "ticks": false, "titlePadding": 34}},
  "text": {"field": "t"}
}
},
{
"data": {"values": [{"x":415,"y":565,"t":"a"},{"x":1267,"y":550,"t":"1 h"}]},
"mark": {"type": "text", "align": "left", "baseline": "alphabetic", "fontSize": 26},
"encoding": {
  "x": {"field": "x", "type": "quantitative", "scale": {"domain": [350, 1500], "nice": false, "zero": false}, "axis": {"orient": "bottom", "values": [400, 500, 600, 700, 800, 900, 1000, 1100, 1200, 1300, 1400], "format": "d", "labelExpr": "datum.value % 200 == 0 ? datum.label : ''", "tickSize": 7, "labelPadding": 7, "title": "Wavenumber (cm⁻¹)", "titlePadding": 19}},
  "y": {"field": "y", "type": "quantitative", "scale": {"domain": [0, 618], "nice": false, "zero": false}, "axis": {"title": "Absorbance (a.u.)", "labels": false, "ticks": false, "titlePadding": 34}},
  "text": {"field": "t"}
}
}
]
},
{
"width": 450, "height": 616,
"layer": [
{
"data": {"values": [
{"c":0,"x":350,"y":414},{"c":0,"x":355,"y":434},{"c":0,"x":385,"y":420},{"c":0,"x":410,"y":428},{"c":0,"x":416,"y":445},{"c":0,"x":422,"y":430},{"c":0,"x":428,"y":436},{"c":0,"x":435,"y":448},{"c":0,"x":450,"y":466},{"c":0,"x":468,"y":476},{"c":0,"x":477,"y":493},{"c":0,"x":484,"y":516},{"c":0,"x":491,"y":480},{"c":0,"x":505,"y":470},{"c":0,"x":514,"y":465},{"c":0,"x":523,"y":470},{"c":0,"x":540,"y":488},{"c":0,"x":554,"y":465},{"c":0,"x":568,"y":452},{"c":0,"x":582,"y":442},{"c":0,"x":610,"y":419},{"c":0,"x":651,"y":410},{"c":0,"x":662,"y":409},{"c":0,"x":735,"y":409},{"c":0,"x":748,"y":409},{"c":0,"x":802,"y":417},{"c":0,"x":815,"y":412},{"c":0,"x":833,"y":423},{"c":0,"x":842,"y":414},{"c":0,"x":851,"y":417},{"c":0,"x":865,"y":411},{"c":0,"x":880,"y":412},{"c":0,"x":925,"y":426},{"c":0,"x":948,"y":471},{"c":0,"x":964,"y":440},{"c":0,"x":1000,"y":454},{"c":0,"x":1030,"y":495},{"c":0,"x":1047,"y":549},{"c":0,"x":1058,"y":536},{"c":0,"x":1066,"y":545},{"c":0,"x":1082,"y":470},{"c":0,"x":1104,"y":441},{"c":0,"x":1120,"y":475},{"c":0,"x":1135,"y":438},{"c":0,"x":1170,"y":426},{"c":0,"x":1260,"y":415},{"c":0,"x":1500,"y":408},
{"c":1,"x":350,"y":394},{"c":1,"x":355,"y":412},{"c":1,"x":385,"y":400},{"c":1,"x":410,"y":408},{"c":1,"x":416,"y":423},{"c":1,"x":422,"y":410},{"c":1,"x":428,"y":416},{"c":1,"x":435,"y":426},{"c":1,"x":450,"y":443},{"c":1,"x":468,"y":453},{"c":1,"x":477,"y":468},{"c":1,"x":484,"y":488},{"c":1,"x":491,"y":456},{"c":1,"x":505,"y":446},{"c":1,"x":514,"y":442},{"c":1,"x":523,"y":446},{"c":1,"x":540,"y":460},{"c":1,"x":554,"y":442},{"c":1,"x":568,"y":430},{"c":1,"x":582,"y":420},{"c":1,"x":610,"y":399},{"c":1,"x":651,"y":391},{"c":1,"x":662,"y":389},{"c":1,"x":735,"y":390},{"c":1,"x":748,"y":389},{"c":1,"x":802,"y":397},{"c":1,"x":815,"y":392},{"c":1,"x":833,"y":402},{"c":1,"x":842,"y":394},{"c":1,"x":851,"y":397},{"c":1,"x":865,"y":391},{"c":1,"x":880,"y":392},{"c":1,"x":925,"y":405},{"c":1,"x":948,"y":446},{"c":1,"x":964,"y":418},{"c":1,"x":1000,"y":432},{"c":1,"x":1030,"y":472},{"c":1,"x":1047,"y":518},{"c":1,"x":1058,"y":508},{"c":1,"x":1066,"y":516},{"c":1,"x":1082,"y":450},{"c":1,"x":1104,"y":423},{"c":1,"x":1120,"y":446},{"c":1,"x":1135,"y":418},{"c":1,"x":1170,"y":406},{"c":1,"x":1260,"y":395},{"c":1,"x":1500,"y":388},
{"c":2,"x":350,"y":370},{"c":2,"x":355,"y":387},{"c":2,"x":385,"y":375},{"c":2,"x":410,"y":391},{"c":2,"x":416,"y":385},{"c":2,"x":422,"y":395},{"c":2,"x":428,"y":387},{"c":2,"x":435,"y":397},{"c":2,"x":450,"y":407},{"c":2,"x":468,"y":421},{"c":2,"x":477,"y":443},{"c":2,"x":484,"y":475},{"c":2,"x":491,"y":433},{"c":2,"x":505,"y":413},{"c":2,"x":514,"y":409},{"c":2,"x":523,"y":409},{"c":2,"x":540,"y":425},{"c":2,"x":554,"y":413},{"c":2,"x":568,"y":413},{"c":2,"x":582,"y":399},{"c":2,"x":610,"y":376},{"c":2,"x":651,"y":374},{"c":2,"x":662,"y":368},{"c":2,"x":735,"y":373},{"c":2,"x":748,"y":367},{"c":2,"x":802,"y":375},{"c":2,"x":815,"y":370},{"c":2,"x":833,"y":378},{"c":2,"x":842,"y":371},{"c":2,"x":851,"y":374},{"c":2,"x":865,"y":374},{"c":2,"x":880,"y":369},{"c":2,"x":925,"y":378},{"c":2,"x":948,"y":403},{"c":2,"x":964,"y":387},{"c":2,"x":1000,"y":407},{"c":2,"x":1030,"y":453},{"c":2,"x":1047,"y":485},{"c":2,"x":1058,"y":477},{"c":2,"x":1066,"y":480},{"c":2,"x":1082,"y":433},{"c":2,"x":1104,"y":405},{"c":2,"x":1120,"y":417},{"c":2,"x":1135,"y":413},{"c":2,"x":1170,"y":387},{"c":2,"x":1260,"y":373},{"c":2,"x":1500,"y":365},
{"c":3,"x":350,"y":350},{"c":3,"x":355,"y":363},{"c":3,"x":385,"y":354},{"c":3,"x":410,"y":375},{"c":3,"x":416,"y":365},{"c":3,"x":422,"y":379},{"c":3,"x":428,"y":363},{"c":3,"x":435,"y":375},{"c":3,"x":450,"y":375},{"c":3,"x":468,"y":393},{"c":3,"x":477,"y":420},{"c":3,"x":484,"y":465},{"c":3,"x":491,"y":411},{"c":3,"x":505,"y":383},{"c":3,"x":514,"y":377},{"c":3,"x":523,"y":375},{"c":3,"x":540,"y":385},{"c":3,"x":554,"y":389},{"c":3,"x":568,"y":399},{"c":3,"x":582,"y":378},{"c":3,"x":610,"y":356},{"c":3,"x":651,"y":358},{"c":3,"x":662,"y":349},{"c":3,"x":735,"y":357},{"c":3,"x":748,"y":348},{"c":3,"x":802,"y":358},{"c":3,"x":815,"y":351},{"c":3,"x":833,"y":356},{"c":3,"x":842,"y":351},{"c":3,"x":851,"y":354},{"c":3,"x":865,"y":360},{"c":3,"x":880,"y":350},{"c":3,"x":925,"y":355},{"c":3,"x":948,"y":365},{"c":3,"x":964,"y":363},{"c":3,"x":1000,"y":381},{"c":3,"x":1030,"y":445},{"c":3,"x":1047,"y":457},{"c":3,"x":1058,"y":451},{"c":3,"x":1066,"y":443},{"c":3,"x":1082,"y":421},{"c":3,"x":1104,"y":391},{"c":3,"x":1120,"y":390},{"c":3,"x":1135,"y":403},{"c":3,"x":1170,"y":371},{"c":3,"x":1260,"y":354},{"c":3,"x":1500,"y":345},
{"c":4,"x":350,"y":327},{"c":4,"x":355,"y":337},{"c":4,"x":385,"y":331},{"c":4,"x":410,"y":359},{"c":4,"x":416,"y":339},{"c":4,"x":422,"y":363},{"c":4,"x":428,"y":339},{"c":4,"x":435,"y":357},{"c":4,"x":450,"y":337},{"c":4,"x":468,"y":355},{"c":4,"x":477,"y":393},{"c":4,"x":484,"y":453},{"c":4,"x":491,"y":389},{"c":4,"x":505,"y":353},{"c":4,"x":514,"y":347},{"c":4,"x":523,"y":345},{"c":4,"x":540,"y":351},{"c":4,"x":554,"y":361},{"c":4,"x":568,"y":379},{"c":4,"x":582,"y":356},{"c":4,"x":610,"y":333},{"c":4,"x":651,"y":338},{"c":4,"x":662,"y":327},{"c":4,"x":735,"y":336},{"c":4,"x":748,"y":326},{"c":4,"x":802,"y":338},{"c":4,"x":815,"y":329},{"c":4,"x":833,"y":334},{"c":4,"x":842,"y":329},{"c":4,"x":851,"y":332},{"c":4,"x":865,"y":341},{"c":4,"x":880,"y":329},{"c":4,"x":925,"y":331},{"c":4,"x":948,"y":335},{"c":4,"x":964,"y":339},{"c":4,"x":1000,"y":357},{"c":4,"x":1030,"y":429},{"c":4,"x":1047,"y":435},{"c":4,"x":1058,"y":423},{"c":4,"x":1066,"y":405},{"c":4,"x":1082,"y":401},{"c":4,"x":1104,"y":371},{"c":4,"x":1120,"y":367},{"c":4,"x":1135,"y":383},{"c":4,"x":1170,"y":351},{"c":4,"x":1260,"y":332},{"c":4,"x":1500,"y":323},
{"c":5,"x":350,"y":307},{"c":5,"x":355,"y":317},{"c":5,"x":385,"y":311},{"c":5,"x":410,"y":339},{"c":5,"x":416,"y":319},{"c":5,"x":422,"y":343},{"c":5,"x":428,"y":319},{"c":5,"x":435,"y":337},{"c":5,"x":450,"y":317},{"c":5,"x":468,"y":335},{"c":5,"x":477,"y":373},{"c":5,"x":484,"y":433},{"c":5,"x":491,"y":369},{"c":5,"x":505,"y":333},{"c":5,"x":514,"y":327},{"c":5,"x":523,"y":325},{"c":5,"x":540,"y":331},{"c":5,"x":554,"y":341},{"c":5,"x":568,"y":359},{"c":5,"x":582,"y":336},{"c":5,"x":610,"y":313},{"c":5,"x":651,"y":318},{"c":5,"x":662,"y":307},{"c":5,"x":735,"y":316},{"c":5,"x":748,"y":306},{"c":5,"x":802,"y":318},{"c":5,"x":815,"y":309},{"c":5,"x":833,"y":314},{"c":5,"x":842,"y":309},{"c":5,"x":851,"y":312},{"c":5,"x":865,"y":321},{"c":5,"x":880,"y":309},{"c":5,"x":925,"y":311},{"c":5,"x":948,"y":315},{"c":5,"x":964,"y":319},{"c":5,"x":1000,"y":337},{"c":5,"x":1030,"y":409},{"c":5,"x":1047,"y":415},{"c":5,"x":1058,"y":403},{"c":5,"x":1066,"y":385},{"c":5,"x":1082,"y":381},{"c":5,"x":1104,"y":351},{"c":5,"x":1120,"y":347},{"c":5,"x":1135,"y":363},{"c":5,"x":1170,"y":331},{"c":5,"x":1260,"y":312},{"c":5,"x":1500,"y":303},
{"c":6,"x":350,"y":285},{"c":6,"x":355,"y":295},{"c":6,"x":385,"y":289},{"c":6,"x":410,"y":317},{"c":6,"x":416,"y":297},{"c":6,"x":422,"y":321},{"c":6,"x":428,"y":297},{"c":6,"x":435,"y":315},{"c":6,"x":450,"y":295},{"c":6,"x":468,"y":313},{"c":6,"x":477,"y":351},{"c":6,"x":484,"y":411},{"c":6,"x":491,"y":347},{"c":6,"x":505,"y":311},{"c":6,"x":514,"y":305},{"c":6,"x":523,"y":303},{"c":6,"x":540,"y":309},{"c":6,"x":554,"y":319},{"c":6,"x":568,"y":337},{"c":6,"x":582,"y":314},{"c":6,"x":610,"y":291},{"c":6,"x":651,"y":296},{"c":6,"x":662,"y":285},{"c":6,"x":735,"y":294},{"c":6,"x":748,"y":284},{"c":6,"x":802,"y":296},{"c":6,"x":815,"y":287},{"c":6,"x":833,"y":292},{"c":6,"x":842,"y":287},{"c":6,"x":851,"y":290},{"c":6,"x":865,"y":299},{"c":6,"x":880,"y":287},{"c":6,"x":925,"y":289},{"c":6,"x":948,"y":293},{"c":6,"x":964,"y":297},{"c":6,"x":1000,"y":315},{"c":6,"x":1030,"y":387},{"c":6,"x":1047,"y":393},{"c":6,"x":1058,"y":381},{"c":6,"x":1066,"y":363},{"c":6,"x":1082,"y":359},{"c":6,"x":1104,"y":329},{"c":6,"x":1120,"y":325},{"c":6,"x":1135,"y":341},{"c":6,"x":1170,"y":309},{"c":6,"x":1260,"y":290},{"c":6,"x":1500,"y":281},
{"c":7,"x":350,"y":264},{"c":7,"x":355,"y":274},{"c":7,"x":385,"y":268},{"c":7,"x":410,"y":296},{"c":7,"x":416,"y":276},{"c":7,"x":422,"y":300},{"c":7,"x":428,"y":276},{"c":7,"x":435,"y":294},{"c":7,"x":450,"y":274},{"c":7,"x":468,"y":292},{"c":7,"x":477,"y":330},{"c":7,"x":484,"y":390},{"c":7,"x":491,"y":326},{"c":7,"x":505,"y":290},{"c":7,"x":514,"y":284},{"c":7,"x":523,"y":282},{"c":7,"x":540,"y":288},{"c":7,"x":554,"y":298},{"c":7,"x":568,"y":316},{"c":7,"x":582,"y":293},{"c":7,"x":610,"y":270},{"c":7,"x":651,"y":275},{"c":7,"x":662,"y":264},{"c":7,"x":735,"y":273},{"c":7,"x":748,"y":263},{"c":7,"x":802,"y":275},{"c":7,"x":815,"y":266},{"c":7,"x":833,"y":271},{"c":7,"x":842,"y":266},{"c":7,"x":851,"y":269},{"c":7,"x":865,"y":278},{"c":7,"x":880,"y":266},{"c":7,"x":925,"y":268},{"c":7,"x":948,"y":272},{"c":7,"x":964,"y":276},{"c":7,"x":1000,"y":294},{"c":7,"x":1030,"y":366},{"c":7,"x":1047,"y":372},{"c":7,"x":1058,"y":360},{"c":7,"x":1066,"y":342},{"c":7,"x":1082,"y":338},{"c":7,"x":1104,"y":308},{"c":7,"x":1120,"y":304},{"c":7,"x":1135,"y":320},{"c":7,"x":1170,"y":288},{"c":7,"x":1260,"y":269},{"c":7,"x":1500,"y":260},
{"c":8,"x":350,"y":243},{"c":8,"x":355,"y":253},{"c":8,"x":385,"y":247},{"c":8,"x":410,"y":275},{"c":8,"x":416,"y":255},{"c":8,"x":422,"y":279},{"c":8,"x":428,"y":255},{"c":8,"x":435,"y":273},{"c":8,"x":450,"y":253},{"c":8,"x":468,"y":271},{"c":8,"x":477,"y":309},{"c":8,"x":484,"y":369},{"c":8,"x":491,"y":305},{"c":8,"x":505,"y":269},{"c":8,"x":514,"y":263},{"c":8,"x":523,"y":261},{"c":8,"x":540,"y":267},{"c":8,"x":554,"y":277},{"c":8,"x":568,"y":295},{"c":8,"x":582,"y":272},{"c":8,"x":610,"y":249},{"c":8,"x":651,"y":254},{"c":8,"x":662,"y":243},{"c":8,"x":735,"y":252},{"c":8,"x":748,"y":242},{"c":8,"x":802,"y":254},{"c":8,"x":815,"y":245},{"c":8,"x":833,"y":250},{"c":8,"x":842,"y":245},{"c":8,"x":851,"y":248},{"c":8,"x":865,"y":257},{"c":8,"x":880,"y":245},{"c":8,"x":925,"y":247},{"c":8,"x":948,"y":251},{"c":8,"x":964,"y":255},{"c":8,"x":1000,"y":273},{"c":8,"x":1030,"y":345},{"c":8,"x":1047,"y":351},{"c":8,"x":1058,"y":339},{"c":8,"x":1066,"y":321},{"c":8,"x":1082,"y":317},{"c":8,"x":1104,"y":287},{"c":8,"x":1120,"y":283},{"c":8,"x":1135,"y":299},{"c":8,"x":1170,"y":267},{"c":8,"x":1260,"y":248},{"c":8,"x":1500,"y":239},
{"c":9,"x":350,"y":221},{"c":9,"x":355,"y":231},{"c":9,"x":385,"y":225},{"c":9,"x":410,"y":253},{"c":9,"x":416,"y":233},{"c":9,"x":422,"y":257},{"c":9,"x":428,"y":233},{"c":9,"x":435,"y":251},{"c":9,"x":450,"y":231},{"c":9,"x":468,"y":249},{"c":9,"x":477,"y":282},{"c":9,"x":484,"y":337},{"c":9,"x":491,"y":279},{"c":9,"x":505,"y":247},{"c":9,"x":514,"y":241},{"c":9,"x":523,"y":239},{"c":9,"x":540,"y":245},{"c":9,"x":554,"y":255},{"c":9,"x":568,"y":273},{"c":9,"x":582,"y":250},{"c":9,"x":610,"y":227},{"c":9,"x":651,"y":232},{"c":9,"x":662,"y":221},{"c":9,"x":735,"y":230},{"c":9,"x":748,"y":220},{"c":9,"x":802,"y":232},{"c":9,"x":815,"y":223},{"c":9,"x":833,"y":228},{"c":9,"x":842,"y":223},{"c":9,"x":851,"y":226},{"c":9,"x":865,"y":235},{"c":9,"x":880,"y":223},{"c":9,"x":925,"y":225},{"c":9,"x":948,"y":229},{"c":9,"x":964,"y":233},{"c":9,"x":1000,"y":251},{"c":9,"x":1030,"y":317},{"c":9,"x":1047,"y":321},{"c":9,"x":1058,"y":311},{"c":9,"x":1066,"y":297},{"c":9,"x":1082,"y":293},{"c":9,"x":1104,"y":265},{"c":9,"x":1120,"y":261},{"c":9,"x":1135,"y":275},{"c":9,"x":1170,"y":245},{"c":9,"x":1260,"y":226},{"c":9,"x":1500,"y":217},
{"c":10,"x":350,"y":201},{"c":10,"x":355,"y":211},{"c":10,"x":385,"y":205},{"c":10,"x":410,"y":233},{"c":10,"x":416,"y":213},{"c":10,"x":422,"y":237},{"c":10,"x":428,"y":213},{"c":10,"x":435,"y":231},{"c":10,"x":450,"y":211},{"c":10,"x":468,"y":229},{"c":10,"x":477,"y":262},{"c":10,"x":484,"y":317},{"c":10,"x":491,"y":259},{"c":10,"x":505,"y":227},{"c":10,"x":514,"y":221},{"c":10,"x":523,"y":219},{"c":10,"x":540,"y":225},{"c":10,"x":554,"y":235},{"c":10,"x":568,"y":253},{"c":10,"x":582,"y":230},{"c":10,"x":610,"y":207},{"c":10,"x":651,"y":212},{"c":10,"x":662,"y":201},{"c":10,"x":735,"y":210},{"c":10,"x":748,"y":200},{"c":10,"x":802,"y":212},{"c":10,"x":815,"y":203},{"c":10,"x":833,"y":208},{"c":10,"x":842,"y":203},{"c":10,"x":851,"y":206},{"c":10,"x":865,"y":215},{"c":10,"x":880,"y":203},{"c":10,"x":925,"y":205},{"c":10,"x":948,"y":209},{"c":10,"x":964,"y":213},{"c":10,"x":1000,"y":231},{"c":10,"x":1030,"y":297},{"c":10,"x":1047,"y":301},{"c":10,"x":1058,"y":291},{"c":10,"x":1066,"y":277},{"c":10,"x":1082,"y":273},{"c":10,"x":1104,"y":245},{"c":10,"x":1120,"y":241},{"c":10,"x":1135,"y":255},{"c":10,"x":1170,"y":225},{"c":10,"x":1260,"y":206},{"c":10,"x":1500,"y":197},
{"c":11,"x":350,"y":180},{"c":11,"x":355,"y":186},{"c":11,"x":385,"y":182},{"c":11,"x":410,"y":187},{"c":11,"x":416,"y":181},{"c":11,"x":422,"y":188},{"c":11,"x":428,"y":181},{"c":11,"x":435,"y":186},{"c":11,"x":450,"y":180},{"c":11,"x":468,"y":186},{"c":11,"x":477,"y":192},{"c":11,"x":484,"y":203},{"c":11,"x":491,"y":190},{"c":11,"x":505,"y":180},{"c":11,"x":514,"y":178},{"c":11,"x":523,"y":178},{"c":11,"x":540,"y":180},{"c":11,"x":554,"y":183},{"c":11,"x":568,"y":188},{"c":11,"x":582,"y":183},{"c":11,"x":610,"y":180},{"c":11,"x":651,"y":183},{"c":11,"x":662,"y":179},{"c":11,"x":735,"y":183},{"c":11,"x":748,"y":179},{"c":11,"x":802,"y":186},{"c":11,"x":815,"y":182},{"c":11,"x":833,"y":184},{"c":11,"x":842,"y":182},{"c":11,"x":851,"y":185},{"c":11,"x":865,"y":191},{"c":11,"x":880,"y":184},{"c":11,"x":925,"y":186},{"c":11,"x":948,"y":190},{"c":11,"x":964,"y":194},{"c":11,"x":1000,"y":208},{"c":11,"x":1030,"y":236},{"c":11,"x":1047,"y":240},{"c":11,"x":1058,"y":232},{"c":11,"x":1066,"y":224},{"c":11,"x":1082,"y":226},{"c":11,"x":1104,"y":214},{"c":11,"x":1120,"y":208},{"c":11,"x":1135,"y":215},{"c":11,"x":1170,"y":198},{"c":11,"x":1260,"y":184},{"c":11,"x":1500,"y":176},
{"c":12,"x":350,"y":158},{"c":12,"x":355,"y":160},{"c":12,"x":385,"y":162},{"c":12,"x":410,"y":166},{"c":12,"x":416,"y":167},{"c":12,"x":422,"y":168},{"c":12,"x":428,"y":169},{"c":12,"x":435,"y":170},{"c":12,"x":450,"y":174},{"c":12,"x":468,"y":178},{"c":12,"x":477,"y":177},{"c":12,"x":484,"y":174},{"c":12,"x":491,"y":170},{"c":12,"x":505,"y":163},{"c":12,"x":514,"y":159},{"c":12,"x":523,"y":157},{"c":12,"x":540,"y":158},{"c":12,"x":554,"y":159},{"c":12,"x":568,"y":160},{"c":12,"x":582,"y":159},{"c":12,"x":610,"y":157},{"c":12,"x":651,"y":162},{"c":12,"x":662,"y":159},{"c":12,"x":735,"y":164},{"c":12,"x":748,"y":162},{"c":12,"x":802,"y":168},{"c":12,"x":815,"y":165},{"c":12,"x":833,"y":166},{"c":12,"x":842,"y":165},{"c":12,"x":851,"y":166},{"c":12,"x":865,"y":169},{"c":12,"x":880,"y":166},{"c":12,"x":925,"y":163},{"c":12,"x":948,"y":163},{"c":12,"x":964,"y":164},{"c":12,"x":1000,"y":174},{"c":12,"x":1030,"y":189},{"c":12,"x":1047,"y":194},{"c":12,"x":1058,"y":197},{"c":12,"x":1066,"y":199},{"c":12,"x":1082,"y":201},{"c":12,"x":1104,"y":201},{"c":12,"x":1120,"y":196},{"c":12,"x":1135,"y":189},{"c":12,"x":1170,"y":181},{"c":12,"x":1260,"y":171},{"c":12,"x":1500,"y":154},
{"c":13,"x":350,"y":136},{"c":13,"x":385,"y":141},{"c":13,"x":420,"y":147},{"c":13,"x":450,"y":151},{"c":13,"x":472,"y":155},{"c":13,"x":495,"y":149},{"c":13,"x":522,"y":146},{"c":13,"x":545,"y":149},{"c":13,"x":567,"y":153},{"c":13,"x":595,"y":144},{"c":13,"x":620,"y":138},{"c":13,"x":660,"y":136},{"c":13,"x":710,"y":139},{"c":13,"x":740,"y":141},{"c":13,"x":770,"y":145},{"c":13,"x":795,"y":150},{"c":13,"x":810,"y":152},{"c":13,"x":840,"y":151},{"c":13,"x":890,"y":148},{"c":13,"x":950,"y":141},{"c":13,"x":990,"y":145},{"c":13,"x":1030,"y":162},{"c":13,"x":1060,"y":174},{"c":13,"x":1092,"y":178},{"c":13,"x":1125,"y":170},{"c":13,"x":1165,"y":161},{"c":13,"x":1210,"y":156},{"c":13,"x":1260,"y":151},{"c":13,"x":1350,"y":140},{"c":13,"x":1500,"y":132},
{"c":14,"x":350,"y":111},{"c":14,"x":385,"y":117},{"c":14,"x":420,"y":125},{"c":14,"x":450,"y":131},{"c":14,"x":472,"y":137},{"c":14,"x":495,"y":129},{"c":14,"x":522,"y":122},{"c":14,"x":545,"y":126},{"c":14,"x":567,"y":131},{"c":14,"x":595,"y":123},{"c":14,"x":620,"y":117},{"c":14,"x":660,"y":113},{"c":14,"x":710,"y":116},{"c":14,"x":740,"y":119},{"c":14,"x":770,"y":122},{"c":14,"x":795,"y":128},{"c":14,"x":810,"y":128},{"c":14,"x":840,"y":128},{"c":14,"x":890,"y":127},{"c":14,"x":950,"y":119},{"c":14,"x":990,"y":120},{"c":14,"x":1030,"y":137},{"c":14,"x":1060,"y":157},{"c":14,"x":1092,"y":164},{"c":14,"x":1125,"y":151},{"c":14,"x":1165,"y":141},{"c":14,"x":1210,"y":134},{"c":14,"x":1260,"y":127},{"c":14,"x":1350,"y":116},{"c":14,"x":1500,"y":109},
{"c":15,"x":350,"y":87},{"c":15,"x":385,"y":93},{"c":15,"x":420,"y":102},{"c":15,"x":450,"y":112},{"c":15,"x":472,"y":120},{"c":15,"x":495,"y":111},{"c":15,"x":522,"y":100},{"c":15,"x":545,"y":102},{"c":15,"x":567,"y":107},{"c":15,"x":595,"y":101},{"c":15,"x":620,"y":95},{"c":15,"x":660,"y":89},{"c":15,"x":710,"y":92},{"c":15,"x":740,"y":97},{"c":15,"x":770,"y":98},{"c":15,"x":795,"y":105},{"c":15,"x":810,"y":102},{"c":15,"x":840,"y":104},{"c":15,"x":890,"y":105},{"c":15,"x":950,"y":97},{"c":15,"x":990,"y":95},{"c":15,"x":1030,"y":113},{"c":15,"x":1060,"y":140},{"c":15,"x":1092,"y":150},{"c":15,"x":1125,"y":133},{"c":15,"x":1165,"y":124},{"c":15,"x":1210,"y":114},{"c":15,"x":1260,"y":105},{"c":15,"x":1350,"y":93},{"c":15,"x":1500,"y":86},
{"c":16,"x":350,"y":64},{"c":16,"x":385,"y":70},{"c":16,"x":420,"y":80},{"c":16,"x":450,"y":94},{"c":16,"x":472,"y":105},{"c":16,"x":495,"y":94},{"c":16,"x":522,"y":82},{"c":16,"x":545,"y":77},{"c":16,"x":567,"y":82},{"c":16,"x":595,"y":78},{"c":16,"x":620,"y":74},{"c":16,"x":660,"y":65},{"c":16,"x":710,"y":68},{"c":16,"x":740,"y":74},{"c":16,"x":770,"y":74},{"c":16,"x":795,"y":84},{"c":16,"x":810,"y":78},{"c":16,"x":840,"y":81},{"c":16,"x":890,"y":82},{"c":16,"x":950,"y":76},{"c":16,"x":990,"y":72},{"c":16,"x":1030,"y":86},{"c":16,"x":1060,"y":122},{"c":16,"x":1092,"y":134},{"c":16,"x":1125,"y":116},{"c":16,"x":1165,"y":107},{"c":16,"x":1210,"y":95},{"c":16,"x":1260,"y":85},{"c":16,"x":1350,"y":72},{"c":16,"x":1500,"y":64},
{"c":17,"x":350,"y":41},{"c":17,"x":385,"y":47},{"c":17,"x":420,"y":55},{"c":17,"x":450,"y":69},{"c":17,"x":472,"y":90},{"c":17,"x":495,"y":77},{"c":17,"x":522,"y":68},{"c":17,"x":545,"y":52},{"c":17,"x":567,"y":57},{"c":17,"x":595,"y":53},{"c":17,"x":620,"y":53},{"c":17,"x":660,"y":40},{"c":17,"x":710,"y":43},{"c":17,"x":740,"y":50},{"c":17,"x":770,"y":51},{"c":17,"x":795,"y":61},{"c":17,"x":810,"y":53},{"c":17,"x":840,"y":57},{"c":17,"x":890,"y":59},{"c":17,"x":950,"y":53},{"c":17,"x":990,"y":49},{"c":17,"x":1030,"y":58},{"c":17,"x":1060,"y":91},{"c":17,"x":1092,"y":117},{"c":17,"x":1125,"y":96},{"c":17,"x":1165,"y":86},{"c":17,"x":1210,"y":74},{"c":17,"x":1260,"y":62},{"c":17,"x":1350,"y":48},{"c":17,"x":1500,"y":41}
]},
"mark": {"type": "line", "color": "black", "strokeWidth": 1.8, "interpolate": "monotone"},
"encoding": {
  "x": {"field": "x", "type": "quantitative", "scale": {"domain": [350, 1500], "nice": false, "zero": false}, "axis": {"orient": "bottom", "values": [400, 500, 600, 700, 800, 900, 1000, 1100, 1200, 1300, 1400], "format": "d", "labelExpr": "datum.value % 200 == 0 ? datum.label : ''", "tickSize": 7, "labelPadding": 7, "title": "Wavenumber\u00a0 (cm⁻¹)", "titlePadding": 19}},
  "y": {"field": "y", "type": "quantitative", "scale": {"domain": [0, 616], "nice": false, "zero": false}, "axis": {"title": "Absorbance (a.u.)", "labels": false, "ticks": false, "titlePadding": 30}},
  "detail": {"field": "c", "type": "nominal"}
}
},
{
"data": {"values": [
{"x":1500,"y":413,"t":"untreated"},{"x":1500,"y":385,"t":"450°C"},{"x":1500,"y":345,"t":"550°C"},{"x":1500,"y":300,"t":"650°C"},{"x":1500,"y":258,"t":"750°C"},{"x":1500,"y":213,"t":"850°C"},{"x":1500,"y":175,"t":"950°C"},{"x":1500,"y":130,"t":"1050°C"},{"x":1500,"y":80,"t":"1150°C"},{"x":1500,"y":39,"t":"1250°C"}
]},
"mark": {"type": "text", "align": "center", "baseline": "middle", "dx": 38, "fontSize": 14},
"encoding": {
  "x": {"field": "x", "type": "quantitative", "scale": {"domain": [350, 1500], "nice": false, "zero": false}, "axis": {"orient": "bottom", "values": [400, 500, 600, 700, 800, 900, 1000, 1100, 1200, 1300, 1400], "format": "d", "labelExpr": "datum.value % 200 == 0 ? datum.label : ''", "tickSize": 7, "labelPadding": 7, "title": "Wavenumber\u00a0 (cm⁻¹)", "titlePadding": 19}},
  "y": {"field": "y", "type": "quantitative", "scale": {"domain": [0, 616], "nice": false, "zero": false}, "axis": {"title": "Absorbance (a.u.)", "labels": false, "ticks": false, "titlePadding": 30}},
  "text": {"field": "t"}
}
},
{
"data": {"values": [{"x":439,"y":561,"t":"b"},{"x":1209,"y":539,"t":"5 days"}]},
"mark": {"type": "text", "align": "left", "baseline": "alphabetic", "fontSize": 26},
"encoding": {
  "x": {"field": "x", "type": "quantitative", "scale": {"domain": [350, 1500], "nice": false, "zero": false}, "axis": {"orient": "bottom", "values": [400, 500, 600, 700, 800, 900, 1000, 1100, 1200, 1300, 1400], "format": "d", "labelExpr": "datum.value % 200 == 0 ? datum.label : ''", "tickSize": 7, "labelPadding": 7, "title": "Wavenumber\u00a0 (cm⁻¹)", "titlePadding": 19}},
  "y": {"field": "y", "type": "quantitative", "scale": {"domain": [0, 616], "nice": false, "zero": false}, "axis": {"title": "Absorbance (a.u.)", "labels": false, "ticks": false, "titlePadding": 30}},
  "text": {"field": "t"}
}
}
]
}
]
}
